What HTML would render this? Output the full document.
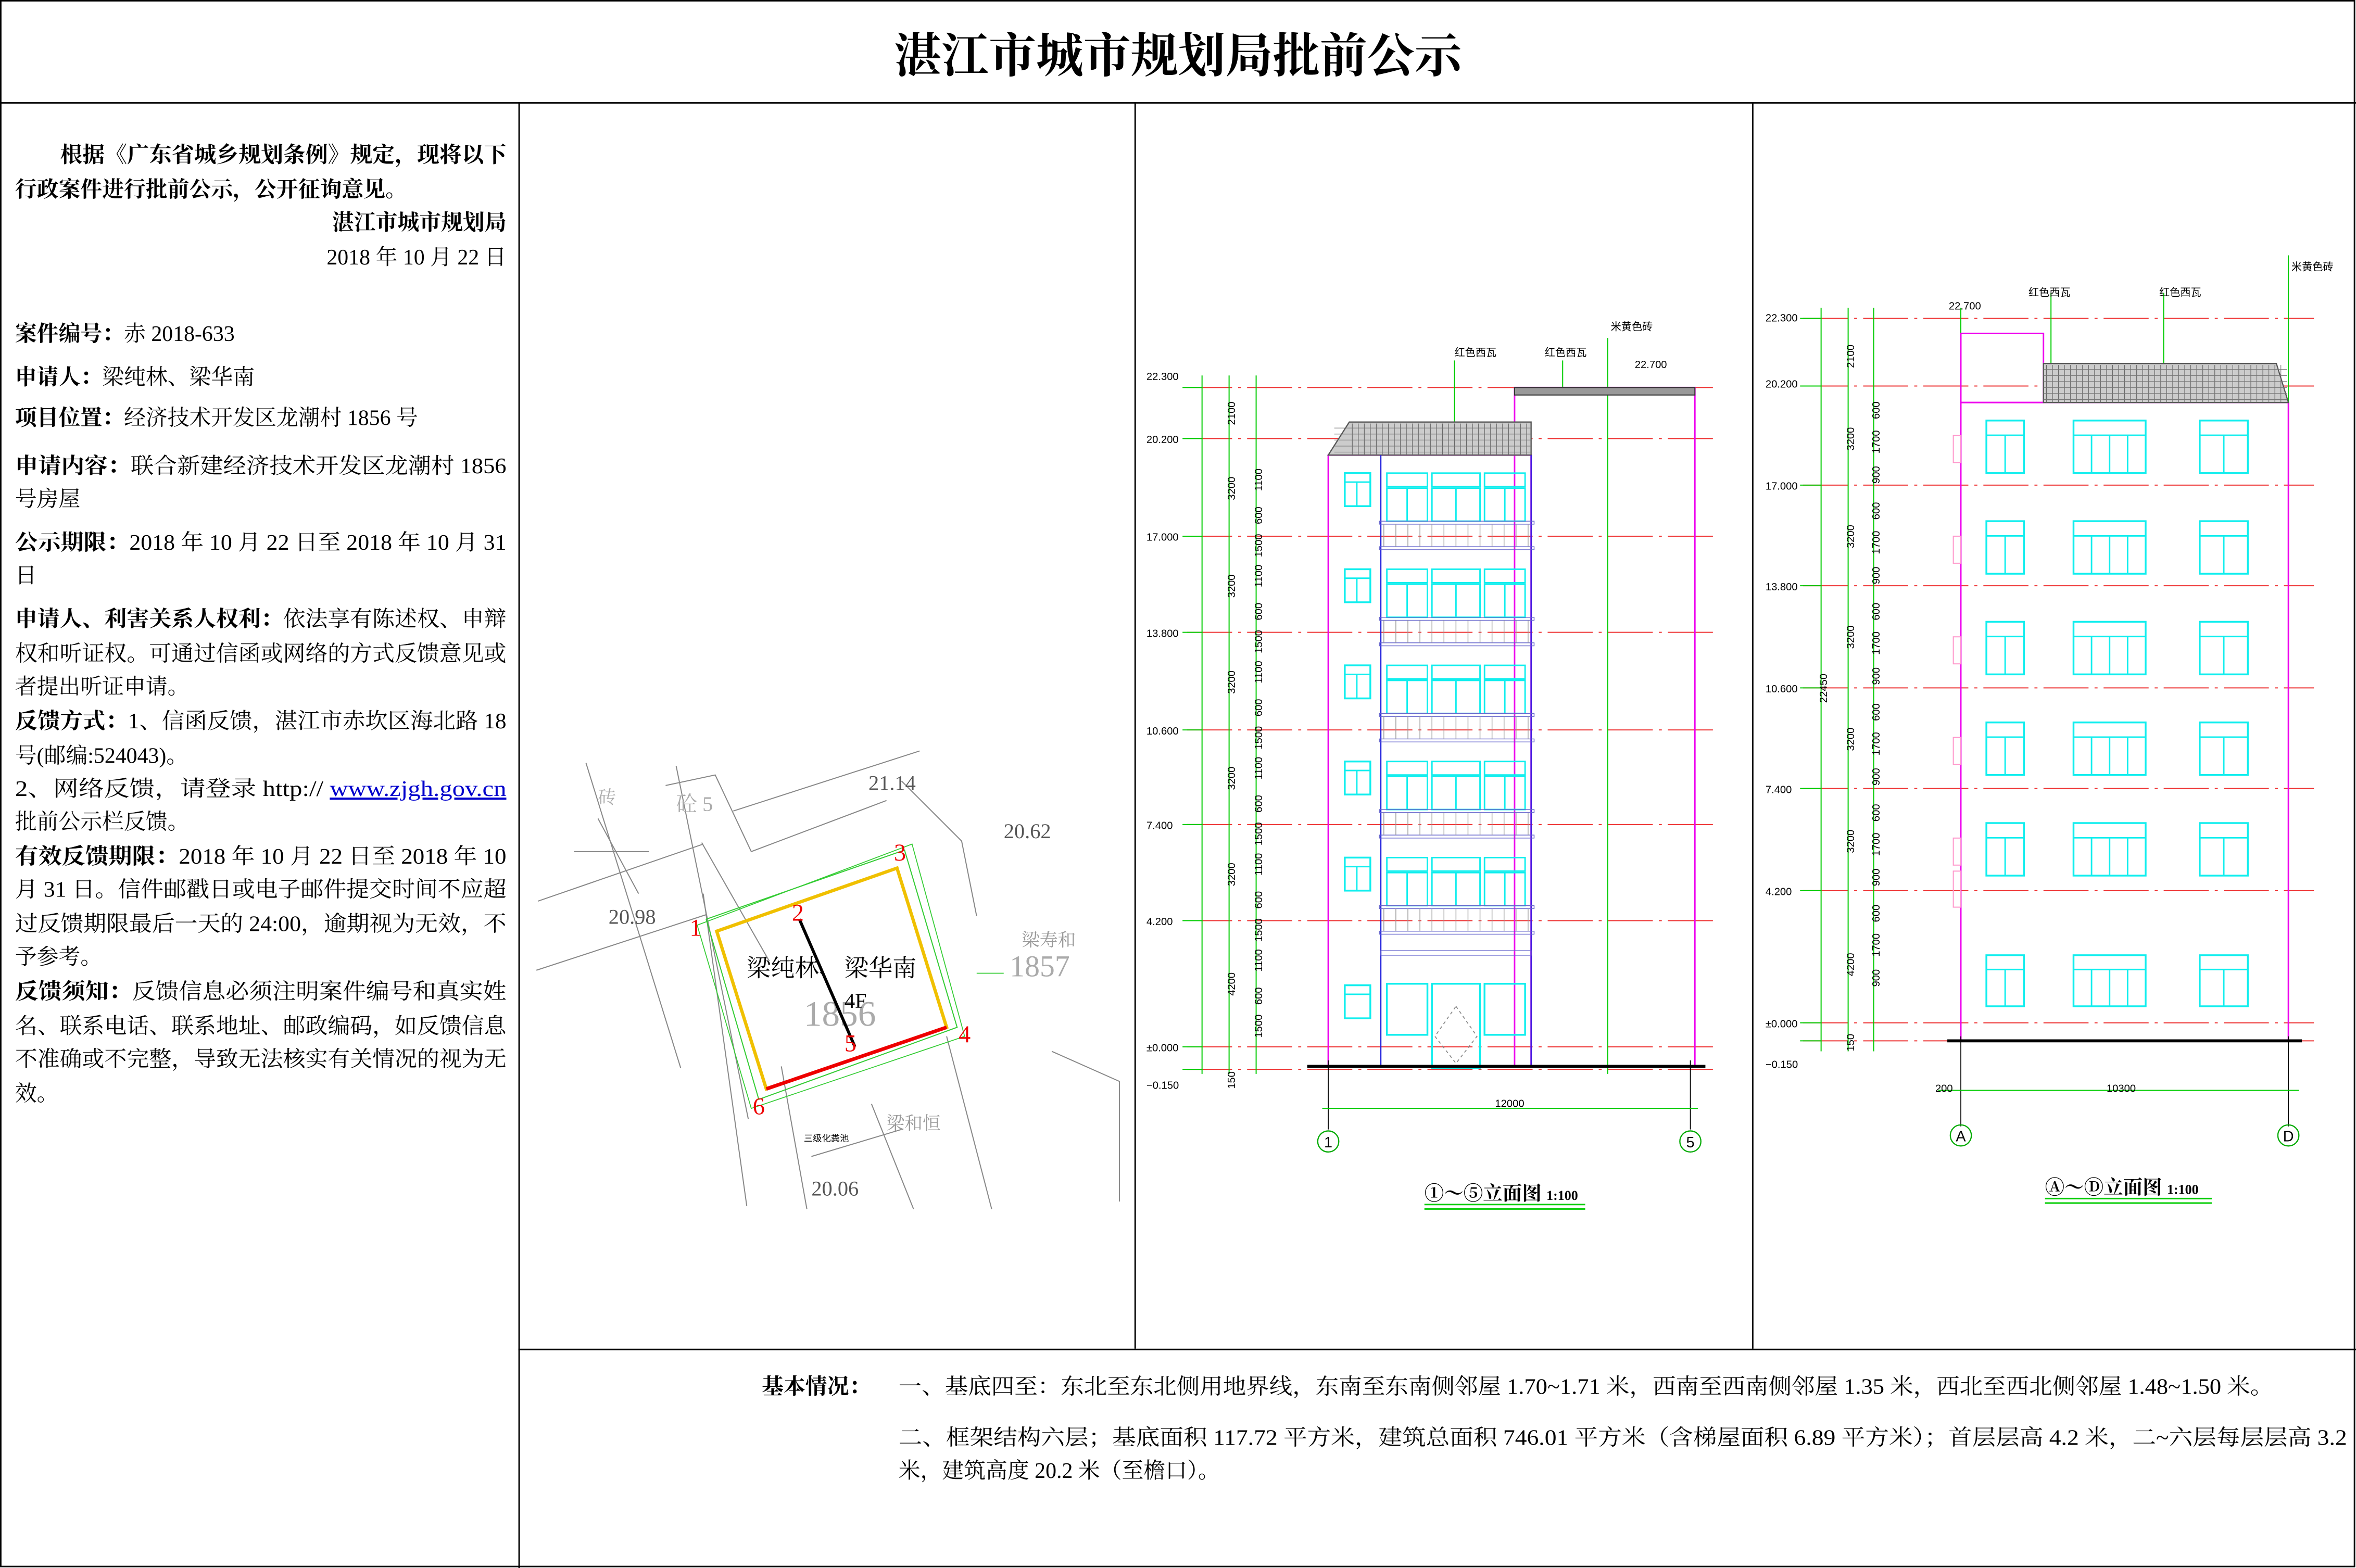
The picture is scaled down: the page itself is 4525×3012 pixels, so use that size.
<!DOCTYPE html>
<html><head><meta charset="utf-8"><style>
html,body{margin:0;padding:0;background:#fff;}
svg{display:block;}
.t{font-family:"Liberation Serif","Noto Serif CJK SC",serif;font-size:14.5px;fill:#000;}
.b{font-weight:bold;}
.s{font-family:"Liberation Sans","Noto Sans CJK SC",sans-serif;font-size:7px;fill:#000;}
</style></head><body>
<svg id="s" width="4525" height="3012" viewBox="0 0 1568 1044" preserveAspectRatio="none" xmlns="http://www.w3.org/2000/svg">
<rect x="0.5" y="0.5" width="1566.5" height="1042.5" fill="#fff" stroke="#000" stroke-width="1"/>
<line x1="0" y1="68.5" x2="1568" y2="68.5" stroke="#000"/>
<line x1="345.5" y1="68" x2="345.5" y2="1044" stroke="#000"/>
<line x1="755.5" y1="68" x2="755.5" y2="898" stroke="#000"/>
<line x1="1166.5" y1="68" x2="1166.5" y2="898" stroke="#000"/>
<line x1="345" y1="898.5" x2="1568" y2="898.5" stroke="#000"/>
<text x="784" y="48" text-anchor="middle" class="t b" style="font-size:31.5px">湛江市城市规划局批前公示</text>

<g class="t">
<text x="40" y="108" class="b" textLength="297" lengthAdjust="spacingAndGlyphs">根据《广东省城乡规划条例》规定，现将以下</text>
<text x="10" y="131" class="b">行政案件进行批前公示，公开征询意见。</text>
<text x="337" y="153" class="b" text-anchor="end">湛江市城市规划局</text>
<text x="337" y="176" text-anchor="end">2018 年 10 月 22 日</text>
<text x="10" y="227"><tspan class="b">案件编号：</tspan>赤 2018-633</text>
<text x="10" y="256"><tspan class="b">申请人：</tspan>梁纯林、梁华南</text>
<text x="10" y="283"><tspan class="b">项目位置：</tspan>经济技术开发区龙潮村 1856 号</text>
<text x="10" y="315" textLength="327" lengthAdjust="spacingAndGlyphs"><tspan class="b">申请内容：</tspan>联合新建经济技术开发区龙潮村 1856</text>
<text x="10" y="337">号房屋</text>
<text x="10" y="366" textLength="327" lengthAdjust="spacingAndGlyphs"><tspan class="b">公示期限：</tspan>2018 年 10 月 22 日至 2018 年 10 月 31</text>
<text x="10" y="388">日</text>
<text x="10" y="417" textLength="327" lengthAdjust="spacingAndGlyphs"><tspan class="b">申请人、利害关系人权利：</tspan>依法享有陈述权、申辩</text>
<text x="10" y="440" textLength="327" lengthAdjust="spacingAndGlyphs">权和听证权。可通过信函或网络的方式反馈意见或</text>
<text x="10" y="462">者提出听证申请。</text>
<text x="10" y="485" textLength="327" lengthAdjust="spacingAndGlyphs"><tspan class="b">反馈方式：</tspan>1、信函反馈，湛江市赤坎区海北路 18</text>
<text x="10" y="508">号(邮编:524043)。</text>
<text x="10" y="530" textLength="327" lengthAdjust="spacingAndGlyphs">2、网络反馈，请登录 http:// <tspan fill="#00c" text-decoration="underline">www.zjgh.gov.cn</tspan></text>
<text x="10" y="552">批前公示栏反馈。</text>
<text x="10" y="575" textLength="327" lengthAdjust="spacingAndGlyphs"><tspan class="b">有效反馈期限：</tspan>2018 年 10 月 22 日至 2018 年 10</text>
<text x="10" y="597" textLength="327" lengthAdjust="spacingAndGlyphs">月 31 日。信件邮戳日或电子邮件提交时间不应超</text>
<text x="10" y="620" textLength="327" lengthAdjust="spacingAndGlyphs">过反馈期限最后一天的 24:00，逾期视为无效，不</text>
<text x="10" y="642">予参考。</text>
<text x="10" y="665" textLength="327" lengthAdjust="spacingAndGlyphs"><tspan class="b">反馈须知：</tspan>反馈信息必须注明案件编号和真实姓</text>
<text x="10" y="688" textLength="327" lengthAdjust="spacingAndGlyphs">名、联系电话、联系地址、邮政编码，如反馈信息</text>
<text x="10" y="710" textLength="327" lengthAdjust="spacingAndGlyphs">不准确或不完整，导致无法核实有关情况的视为无</text>
<text x="10" y="733">效。</text>

<text x="507" y="928" class="b">基本情况：</text>
<text x="598" y="928" textLength="915" lengthAdjust="spacingAndGlyphs">一、基底四至：东北至东北侧用地界线，东南至东南侧邻屋 1.70~1.71 米，西南至西南侧邻屋 1.35 米，西北至西北侧邻屋 1.48~1.50 米。</text>
<text x="598" y="962" textLength="964" lengthAdjust="spacingAndGlyphs">二、框架结构六层；基底面积 117.72 平方米，建筑总面积 746.01 平方米（含梯屋面积 6.89 平方米）；首层层高 4.2 米，二~六层每层层高 3.2</text>
<text x="598" y="984">米，建筑高度 20.2 米（至檐口）。</text>
</g>

<!-- site plan -->
<g stroke="#888" stroke-width="0.7" fill="none">
<polyline points="390,508 453,711"/><polyline points="450,510 498,745"/>
<polyline points="358,600 468,562"/><polyline points="357,646 470,609"/>
<polyline points="443,523 476,516 500,567 590,533"/>
<polyline points="467,561 512,640"/><polyline points="488,540 612,500"/>
<polyline points="468,595 497,803"/><polyline points="600,520 640,560 650,610"/>
<polyline points="630,690 660,805"/><polyline points="580,735 608,805"/>
<polyline points="540,770 600,752"/><polyline points="520,710 537,805"/>
<polyline points="700,700 745,720 745,800"/>
<line x1="398" y1="545" x2="425" y2="595"/><line x1="382" y1="567" x2="432" y2="567"/>
</g>
<g fill="#777" class="t" style="font-size:14px">
<text x="405" y="615" fill="#555">20.98</text>
<text x="578" y="526" fill="#555">21.14</text>
<text x="668" y="558" fill="#555">20.62</text>
<text x="540" y="796" fill="#555">20.06</text>
<text x="680" y="630" fill="#999" style="font-size:12px">梁寿和</text>
<text x="672" y="650" fill="#aaa" style="font-size:20px">1857</text>
<text x="590" y="752" fill="#999" style="font-size:12px">梁和恒</text>
<text x="450" y="540" fill="#aaa" style="font-size:14px">砼 5</text>
<text x="398" y="535" fill="#aaa" style="font-size:12px">砖</text>
<text x="535" y="683" fill="#aaa" style="font-size:24px">1856</text>
</g>
<g fill="none">
<polygon points="470,612 602,566 637,684 505,732" stroke="#3c3" stroke-width="0.7"/>
<polygon points="464,616 607,562 642,690 500,738" stroke="#3c3" stroke-width="0.6"/>
<polygon points="477,620 597,578 630,684 510,725" stroke="#f0c000" stroke-width="2.2"/>
<line x1="510" y1="725" x2="630" y2="684" stroke="#e00" stroke-width="2.4"/>
<line x1="532" y1="612" x2="569" y2="697" stroke="#000" stroke-width="2"/>
<line x1="650" y1="648" x2="668" y2="648" stroke="#3c3" stroke-width="0.6"/>
</g>
<g class="t" fill="#e00" style="font-size:16px;fill:#e00">
<text x="459" y="623" style="fill:#e00">1</text><text x="527" y="613" style="fill:#e00">2</text>
<text x="595" y="573" style="fill:#e00">3</text><text x="638" y="694" style="fill:#e00">4</text>
<text x="562" y="700" style="fill:#e00">5</text><text x="501" y="742" style="fill:#e00">6</text>
</g>
<text x="497" y="650" class="t" style="font-size:16px">梁纯林、</text>
<text x="562" y="650" class="t" style="font-size:16px">梁华南</text>
<text x="562" y="671" class="t" style="font-size:14px">4F</text>
<text x="535" y="760" class="s" style="font-size:6px">三级化粪池</text>

<g id="e1"></g><g id="e2"></g>

<g class="s">
<text x="763" y="253">22.300</text><text x="763" y="295">20.200</text><text x="763" y="360">17.000</text>
<text x="763" y="424">13.800</text><text x="763" y="489">10.600</text><text x="763" y="552">7.400</text>
<text x="763" y="616">4.200</text><text x="763" y="700">±0.000</text><text x="763" y="725">−0.150</text>
<text x="1175" y="214">22.300</text><text x="1175" y="258">20.200</text><text x="1175" y="326">17.000</text>
<text x="1175" y="393">13.800</text><text x="1175" y="461">10.600</text><text x="1175" y="528">7.400</text>
<text x="1175" y="596">4.200</text><text x="1175" y="684">±0.000</text><text x="1175" y="711">−0.150</text>
<text x="995" y="737">12000</text><text x="1402" y="727">10300</text><text x="1288" y="727">200</text>
<text x="968" y="237">红色西瓦</text><text x="1028" y="237">红色西瓦</text><text x="1072" y="220">米黄色砖</text>
<text x="1088" y="245">22.700</text><text x="1297" y="206">22.700</text>
<text x="1350" y="197">红色西瓦</text><text x="1437" y="197">红色西瓦</text><text x="1525" y="180">米黄色砖</text>
</g>
<g class="t" style="font-size:13px">
<text x="948" y="799" class="b">①～⑤立面图 <tspan style="font-size:9px">1:100</tspan></text>
<text x="1361" y="795" class="b">Ⓐ～Ⓓ立面图 <tspan style="font-size:9px">1:100</tspan></text>
</g>
<g stroke="#0c0" stroke-width="1"><line x1="948" y1="802" x2="1055" y2="802"/><line x1="948" y1="805" x2="1055" y2="805"/>
<line x1="1361" y1="798" x2="1472" y2="798"/><line x1="1361" y1="801" x2="1472" y2="801"/></g>
<g fill="none" stroke="#0a0" stroke-width="0.8">
<circle cx="884" cy="760" r="7"/><circle cx="1125" cy="760" r="7"/>
<circle cx="1305" cy="756" r="7"/><circle cx="1523" cy="756" r="7"/></g>
<g class="s" text-anchor="middle" style="font-size:10px"><text x="884" y="764">1</text><text x="1125" y="764">5</text><text x="1305" y="760">A</text><text x="1523" y="760">D</text></g>
</svg>
<script>
var NS="http://www.w3.org/2000/svg";
function el(p,t,a){var e=document.createElementNS(NS,t);for(var k in a)e.setAttribute(k,a[k]);p.appendChild(e);return e;}
function L(p,x1,y1,x2,y2,c,w,d){var a={x1:x1,y1:y1,x2:x2,y2:y2,stroke:c,"stroke-width":w||0.7};if(d)a["stroke-dasharray"]=d;return el(p,"line",a);}
function R(p,x,y,w,h,c,sw,f){return el(p,"rect",{x:x,y:y,width:w,height:h,stroke:c,"stroke-width":sw||0.8,fill:f||"none"});}
function T(p,x,y,s,rot){var t=el(p,"text",{x:x,y:y,"class":"s",transform:rot?"rotate(-90 "+x+" "+y+")":""});t.textContent=s;return t;}
var C="#1ee",M="#e0e",G="#0c0",RD="#e33";
// Elevation 1
var e=document.getElementById("e1");
var lv=[258,292,357,421,486,549,613,697,712];
lv.forEach(function(y){L(e,790,y,1140,y,RD,0.7,"30 4 2 4");L(e,787,y,800,y,G,0.7);});
L(e,800,250,800,715,G);L(e,818,250,818,715,G);L(e,836,250,836,715,G);
[[818,"2100",275],[818,"3200",325],[818,"3200",390],[818,"3200",454],[818,"3200",518],[818,"3200",582],[818,"4200",655],[818,"150",717]].forEach(function(a){T(e,a[0]+4,a[2]+8,a[1],1);});
for(var i=0;i<6;i++){var t=lv[2]+64*i-50;T(e,840,t+20,"1100",1);T(e,840,t+42,"600",1);T(e,840,t+64,"1500",1);}
L(e,1070,225,1070,715,G);L(e,968,240,968,292,G);L(e,1040,240,1040,262,G);
R(e,884,303,135,407,M,1);R(e,1008,258,120,452,M,1);
el(e,"rect",{x:1008,y:258,width:120,height:5,fill:"#999",stroke:"#333","stroke-width":0.7});
el(e,"polygon",{points:"884,303 898,281 1019,281 1019,303",fill:"#ccc",stroke:"#555","stroke-width":0.8});
for(var x=900;x<1019;x+=4)L(e,x,282,x,303,"#666",0.4);
for(var y=285;y<303;y+=4)L(e,888,y,1019,y,"#777",0.4);
L(e,919,303,919,710,"#22d",0.8);L(e,1019,303,1019,710,"#22d",0.8);
for(var i=0;i<5;i++){var t=315+64*i;
 R(e,895,t,17,22,C,1.2);L(e,895,t+6,912,t+6,C,1);L(e,903,t+6,903,t+22,C,1);
 [[923,27],[953,32],[988,27]].forEach(function(g){R(e,g[0],t,g[1],9,C,1);R(e,g[0],t+10,g[1],22,C,1);L(e,g[0]+g[1]/2,t+10,g[0]+g[1]/2,t+32,C,1);});
 R(e,918,t+32,103,2,"#66c",0.5);R(e,918,t+49,103,2,"#66c",0.5);
 for(var x=921;x<1019;x+=8)L(e,x,t+34,x,t+49,"#999",0.5);}
R(e,895,656,17,22,C,1.2);L(e,895,662,912,662,C,1);
R(e,923,655,27,34,C,1.2);R(e,988,655,27,34,C,1.2);R(e,953,655,32,56,C,1.2);
el(e,"polygon",{points:"969,670 983,690 969,708 955,690",fill:"none",stroke:"#888","stroke-width":0.6,"stroke-dasharray":"2 2"});
R(e,919,633,100,3,"#66c",0.5);
L(e,870,710,1135,710,"#000",2);L(e,884,706,884,752,"#000",0.6);L(e,1125,706,1125,752,"#000",0.6);
L(e,880,738,1130,738,G,0.7);
// Elevation 2
e=document.getElementById("e2");
var l2=[212,257,323,390,458,525,593,681,693];
l2.forEach(function(y){L(e,1200,y,1540,y,RD,0.7,"30 4 2 4");L(e,1198,y,1212,y,G,0.7);});
L(e,1212,205,1212,700,G);L(e,1230,205,1230,700,G);L(e,1247,205,1247,700,G);
T(e,1216,468,"22450",1);
[["2100",245],["3200",300],["3200",365],["3200",432],["3200",500],["3200",568],["4200",650],["150",700]].forEach(function(a){T(e,1234,a[1],a[0],1);});
for(var i=0;i<6;i++){var b=l2[1]+67*i;T(e,1251,b+22,"600",1);T(e,1251,b+45,"1700",1);T(e,1251,b+65,"900",1);}
L(e,1305,205,1305,222,G);L(e,1523,170,1523,268,G);L(e,1365,195,1365,242,G);L(e,1440,195,1440,242,G);
R(e,1305,268,218,425,M,1);R(e,1305,222,55,46,M,1);
el(e,"polygon",{points:"1360,242 1515,242 1523,268 1360,268",fill:"#ccc",stroke:"#555","stroke-width":0.8});
for(var x=1362;x<1520;x+=4)L(e,x,243,x,268,"#666",0.4);
for(var y=246;y<268;y+=4)L(e,1360,y,1522,y,"#777",0.4);
function W(x,y,w,h,n){R(e,x,y,w,h,C,1.2);L(e,x,y+h*0.28,x+w,y+h*0.28,C,1);for(var k=1;k<n;k++)L(e,x+w*k/n,y+h*0.28,x+w*k/n,y+h,C,1);}
for(var i=0;i<5;i++){var y=l2[1]+23+67*i;W(1322,y,25,35,2);W(1380,y,48,35,4);W(1464,y,32,35,2);R(e,1300,y+10,5,18,"#f9c",0.7);}
W(1322,636,25,34,2);W(1380,636,48,34,4);W(1464,636,32,34,2);R(e,1300,580,5,24,"#f9c",0.7);
L(e,1296,693,1532,693,"#000",2);L(e,1305,690,1305,750,"#000",0.6);L(e,1523,690,1523,750,"#000",0.6);
L(e,1290,726,1530,726,G,0.7);
</script>
</body></html>
